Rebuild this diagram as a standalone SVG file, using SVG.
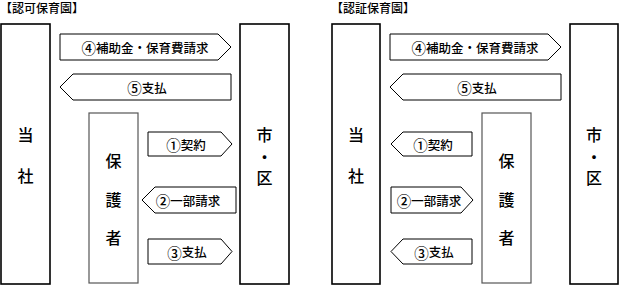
<svg xmlns="http://www.w3.org/2000/svg" width="620" height="286" viewBox="0 0 620 286">
<style>
text{font-family:"Noto Sans CJK JP","Noto Sans CJK SC",sans-serif;fill:#000;}
.title{font-size:12px;font-weight:500;dominant-baseline:central;}
.big{font-size:16px;font-weight:500;writing-mode:vertical-rl;text-orientation:upright;}
.lbl{font-size:12.5px;font-weight:500;text-anchor:middle;dominant-baseline:central;}
.d{font-size:14.5px;}
.main{fill:#fff;stroke:#000;stroke-width:1.6;}
.guard{fill:#fff;stroke:#555;stroke-width:1.2;}
.arr{fill:#fff;stroke:#000;stroke-width:1;}
</style>
<rect width="620" height="286" fill="#fff"/>
<text class="title" x="0" y="7.5">【認可保育園】</text>
<text class="title" x="331" y="7.5">【認証保育園】</text>

<g id="p1-company"><rect class="main" x="1" y="24" width="49" height="260"/><text class="big" x="25.5" y="127" letter-spacing="25">当社</text></g>
<g id="p1-city"><rect class="main" x="240" y="24" width="49" height="260"/><text class="big" x="264.5" y="127" letter-spacing="5.5">市・区</text></g>
<g id="p1-guardian"><rect class="guard" x="89" y="113" width="49" height="170"/><text class="big" x="113.5" y="153" letter-spacing="22.5">保護者</text></g>

<g id="p2-company"><rect class="main" x="332" y="24" width="48" height="260"/><text class="big" x="356" y="127" letter-spacing="25">当社</text></g>
<g id="p2-guardian"><rect class="guard" x="482" y="113" width="49" height="170"/><text class="big" x="506.5" y="153" letter-spacing="22.5">保護者</text></g>
<g id="p2-city"><rect class="main" x="570" y="24" width="48" height="260"/><text class="big" x="594" y="127" letter-spacing="5.5">市・区</text></g>

<g id="connectors">
<path class="arr" d="M60,34 H218 L231,47 L218,60 H60 Z"/><text class="lbl" x="145" y="47"><tspan class="d">④</tspan>補助金・保育費請求</text>
<path class="arr" d="M73,74 H231 V100 H73 L60,87 Z"/><text class="lbl" x="147" y="87"><tspan class="d">⑤</tspan>支払</text>
<path class="arr" d="M148,132 H221 L232,144 L221,156 H148 Z"/><text class="lbl" x="186" y="144"><tspan class="d">①</tspan>契約</text>
<path class="arr" d="M155,187 H236 V213 H155 L142,200 Z"/><text class="lbl" x="188" y="200"><tspan class="d">②</tspan>一部請求</text>
<path class="arr" d="M148,239 H221 L232,251.5 L221,264 H148 Z"/><text class="lbl" x="187" y="251.5"><tspan class="d">③</tspan>支払</text>

<path class="arr" d="M390,34 H548 L561,47 L548,60 H390 Z"/><text class="lbl" x="475" y="47"><tspan class="d">④</tspan>補助金・保育費請求</text>
<path class="arr" d="M403,74 H561 V100 H403 L390,87 Z"/><text class="lbl" x="477" y="87"><tspan class="d">⑤</tspan>支払</text>
<path class="arr" d="M403,132 H472 V156 H403 L391,144 Z"/><text class="lbl" x="433" y="144"><tspan class="d">①</tspan>契約</text>
<path class="arr" d="M391,187 H461 L473,200 L461,213 H391 Z"/><text class="lbl" x="429" y="200"><tspan class="d">②</tspan>一部請求</text>
<path class="arr" d="M403,239 H472 V264 H403 L391,251.5 Z"/><text class="lbl" x="434" y="251.5"><tspan class="d">③</tspan>支払</text>
</g>
</svg>
